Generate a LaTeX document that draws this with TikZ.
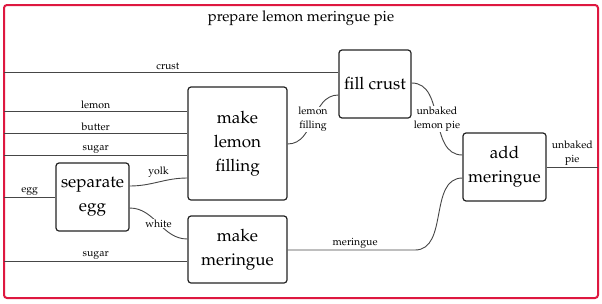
\documentclass[tikz,border=0pt]{standalone}
\usepackage[T1]{fontenc}
\usepackage{mathpazo}
\definecolor{framered}{RGB}{222,24,64}
\definecolor{linegray}{RGB}{70,70,70}
\definecolor{boxgray}{RGB}{35,35,35}
\tikzset{
  stepbox/.style={draw=boxgray, line width=1.2pt, rounded corners=3pt, align=center,
    inner sep=0pt, font=\fontsize{17}{24}\selectfont},
  conn/.style={draw=linegray, line width=0.9pt},
  lbl/.style={font=\fontsize{10.5}{14}\selectfont, align=center, inner sep=1.5pt},
  onlbl/.style={lbl, fill=white, inner sep=0.5pt},
}
\begin{document}
\begin{tikzpicture}[x=1pt,y=-1pt]
\useasboundingbox (0,0) rectangle (602,303);
\draw[framered, line width=2pt, rounded corners=3pt] (4,5) rectangle (598,298);
\node[font=\fontsize{14.8}{18}\selectfont] (title) at (301,18) {prepare lemon meringue pie};

\node[stepbox, minimum width=72pt, minimum height=68pt] (fc) at (375,84) {fill crust};
\node[stepbox, minimum width=99pt, minimum height=113pt] (lf) at (237.5,143.5) {make\\lemon\\filling};
\node[stepbox, minimum width=73pt, minimum height=68pt] (se) at (92.5,197) {separate\\egg};
\node[stepbox, minimum width=99pt, minimum height=67pt] (mm) at (237.5,249.5) {make\\meringue};
\node[stepbox, minimum width=83pt, minimum height=68pt] (am) at (504.5,167) {add\\meringue};

\coordinate (inCrust) at (4,72);
\coordinate (inLemon) at (4,111);
\coordinate (inButter) at (4,133);
\coordinate (inSugar) at (4,155);
\coordinate (inEgg) at (4,197);
\coordinate (inSugarB) at (4,261);
\coordinate (outPie) at (598,167);
\coordinate (mBend) at (415,250);

\draw[conn] (inCrust) -- node[lbl, above, pos=0.49] (lCrust) {crust} (inCrust -| fc.west);
\draw[conn] (inLemon) -- node[lbl, above] (lLemon) {lemon} (inLemon -| lf.west);
\draw[conn] (inButter) -- node[lbl, above] (lButter) {butter} (inButter -| lf.west);
\draw[conn] (inSugar) -- node[lbl, above] (lSugar) {sugar} (inSugar -| lf.west);
\draw[conn] (inEgg) -- node[lbl, above] (lEgg) {egg} (se.west);
\draw[conn] (inSugarB) -- node[lbl, above] (lSugarB) {sugar} (inSugarB -| mm.west);

\draw[conn] ([yshift=11pt]se.east) to[out=0,in=180] node[lbl, above, yshift=3pt] (lYolk) {yolk} ([yshift=-34.5pt]lf.west);
\draw[conn] ([yshift=-11pt]se.east) to[out=0,in=180] node[onlbl] (lWhite) {white} ([yshift=10.5pt]mm.west);
\draw[conn] ([yshift=-0.5pt]lf.east) to[out=0,in=180] node[onlbl] (lFill) {lemon\\filling} ([yshift=-11pt]fc.west);
\draw[conn] ([yshift=1pt]fc.east) to[out=0,in=180] node[onlbl] (lUnb) {unbaked\\lemon pie} ([yshift=12pt]am.west);
\draw[conn] ([yshift=-0.5pt]mm.east) -- node[lbl, above, pos=0.53] (lMer) {meringue} (mBend) to[out=0,in=180] ([yshift=-11pt]am.west);
\draw[conn] (am.east) -- node[lbl, above] (lPie) {unbaked\\pie} (outPie);
\end{tikzpicture}
\end{document}
